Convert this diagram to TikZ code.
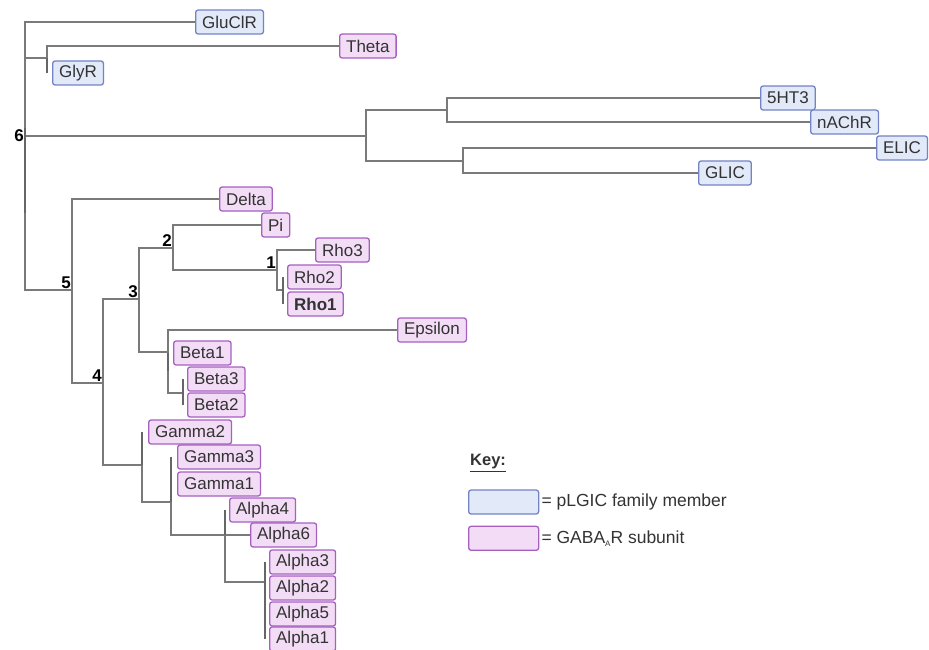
\documentclass[tikz,border=0pt]{standalone}
\usepackage{fontspec}
\setmainfont{Liberation Sans}
\usepackage{tikz}
\usetikzlibrary{positioning, calc}
\usepackage{xcolor}
\definecolor{bleufond}{HTML}{E2E9F8}
\definecolor{bleubord}{HTML}{7383C6}
\definecolor{violetfond}{HTML}{F3DCF6}
\definecolor{violetbord}{HTML}{A660C0}
\definecolor{gristrait}{HTML}{7A7A7A}
\tikzset{
    boite/.style={rounded corners=2.5pt, line width=1.3pt, minimum height=24pt, inner xsep=6.5pt, inner ysep=0pt, anchor=west, text=black!80, font=\fontsize{17}{18}\selectfont},
    famille/.style={boite, draw=bleubord, fill=bleufond},
    sousunite/.style={boite, draw=violetbord, fill=violetfond},
    branche/.style={draw=gristrait, line width=1.2pt},
    barre/.style={draw=black!60, line width=1.5pt},
    numero/.style={font=\bfseries\fontsize{17}{17}\selectfont, inner sep=1pt, anchor=south east},
    legende/.style={anchor=west, inner sep=1pt, text=black!80, font=\fontsize{17.5}{19}\selectfont},
}

\begin{document}
\begin{tikzpicture}[x=1pt, y=-1pt]
\useasboundingbox (0,0) rectangle (929,650);
% Feuilles : membres de la famille pLGIC
\node[famille] (gluclr) at (195,22) {GluClR};
\node[famille] (glyr) at (52,73) {GlyR};
\node[famille] (ht3) at (760,98) {5HT3};
\node[famille] (nachr) at (810,122) {nAChR};
\node[famille] (elic) at (876,148) {ELIC};
\node[famille] (glic) at (698,173) {GLIC};
% Feuilles : sous-unites GABA-A
\node[sousunite] (theta) at (339,46) {Theta};
\node[sousunite] (delta) at (219,199) {Delta};
\node[sousunite] (pi) at (261,225) {Pi};
\node[sousunite] (rho3) at (315,250) {Rho3};
\node[sousunite] (rho2) at (287,277) {Rho2};
\node[sousunite] (rho1) at (287,304) {\bfseries Rho1};
\node[sousunite] (epsilon) at (397,330) {Epsilon};
\node[sousunite] (beta1) at (173,353) {Beta1};
\node[sousunite] (beta3) at (187,379) {Beta3};
\node[sousunite] (beta2) at (187,405) {Beta2};
\node[sousunite] (gamma2) at (148,432) {Gamma2};
\node[sousunite] (gamma3) at (177,457) {Gamma3};
\node[sousunite] (gamma1) at (177,484) {Gamma1};
\node[sousunite] (alpha4) at (229,510) {Alpha4};
\node[sousunite] (alpha6) at (250,535) {Alpha6};
\foreach \n/\y in {3/562, 2/588, 5/614, 1/639} {\node[sousunite] (alpha\n) at (269,\y) {Alpha\n};}

% Noeuds internes
\coordinate (n6) at (25,136);
\coordinate (nglyr) at (47,58);
\coordinate (npent) at (366,136);
\coordinate (nser) at (447,110);
\coordinate (nelic) at (463,161);
\coordinate (n5) at (72,290);
\coordinate (n4) at (103,383);
\coordinate (n3) at (139,299);
\coordinate (n2) at (173,248);
\coordinate (n1) at (277,270);
\coordinate (nrho) at (283,290);
\coordinate (neps) at (168,352);
\coordinate (nbeta) at (183,393);
\coordinate (ngam) at (142,465);
\coordinate (ngamb) at (171,502);
\coordinate (nalpha) at (225,535);
\coordinate (nalphab) at (265,582);

% Branches
\draw[branche] (n6) |- (gluclr.west);
\draw[branche] (n6) |- (nglyr);
\draw[branche] (n6) -- (npent);
\draw[branche] (n6) |- (n5);
\draw[barre] ($(n6)+(0,-8)$) -- ++(0,85);
\draw[branche] (nglyr) |- (theta.west);
\draw[barre] (nglyr) -- (nglyr |- glyr.west);
\draw[branche] (npent) |- (nser);
\draw[branche] (npent) |- (nelic);
\draw[branche] (nser) |- (ht3.west);
\draw[branche] (nser) |- (nachr.west);
\draw[branche] (nelic) |- (elic.west);
\draw[branche] (nelic) |- (glic.west);
\draw[branche] (n5) |- (delta.west);
\draw[branche] (n5) |- (n4);
\draw[branche] (n4) |- (n3);
\draw[branche] (n4) |- (ngam);
\draw[branche] (n3) |- (n2);
\draw[branche] (n3) |- (neps);
\draw[branche] (n2) |- (pi.west);
\draw[branche] (n2) |- (n1);
\draw[branche] (n1) |- (rho3.west);
\draw[branche] (n1) |- (nrho);
\draw[barre] (nrho |- rho2.west) -- (nrho |- rho1.west);
\draw[branche] (neps) |- (epsilon.west);
\draw[branche] (neps) |- (nbeta);
\draw[barre] (neps |- beta1.west) -- ++(0,18);
\draw[barre] (nbeta |- beta3.west) -- (nbeta |- beta2.west);
\draw[barre] (ngam |- gamma2.west) -- (ngam);
\draw[branche] (ngam) |- (ngamb);
\draw[barre] (ngamb |- gamma3.west) -- (ngamb);
\draw[branche] (ngamb) |- (nalpha);
\draw[branche] (nalpha) -- (alpha6.west);
\draw[barre] (nalpha |- alpha4.west) -- (nalpha);
\draw[branche] (nalpha) |- (nalphab);
\draw[barre] (nalphab |- alpha3.west) -- (nalphab |- alpha1.west);

% Numeros des noeuds
\node[numero, anchor=east] at (n6) {6};
\node[numero] at (n5) {5};
\node[numero] at (n4) {4};
\node[numero] at (n3) {3};
\node[numero] at (n2) {2};
\node[numero] at (n1) {1};

% Legende
\node[legende, font=\bfseries\fontsize{16.5}{18}\selectfont] (cle) at (469,463) {\underline{Key:}};
\node[famille, minimum width=70pt, minimum height=24pt] (clefam) at (468,502) {};
\node[sousunite, minimum width=70pt, minimum height=24pt, below=11pt of clefam.south west, anchor=north west] (clesous) {};
\node[legende, right=1pt of clefam] {= pLGIC family member};
\node[legende, right=1pt of clesous] {= GABA\raisebox{-0.35ex}{\fontsize{8}{8}\selectfont A}R subunit};
\end{tikzpicture}
\end{document}
